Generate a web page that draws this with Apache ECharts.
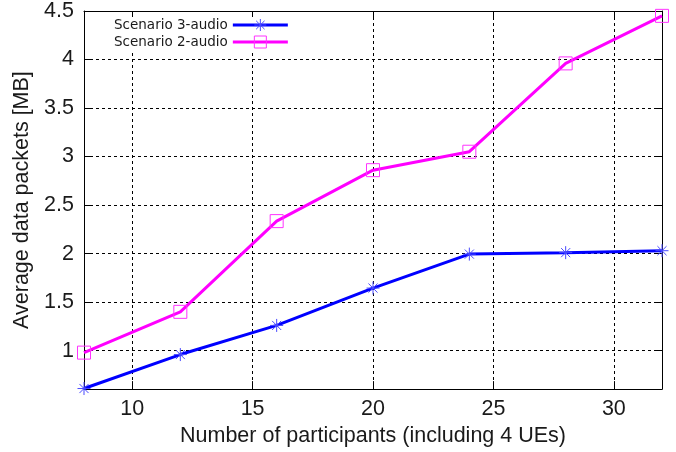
<!DOCTYPE html>
<html>
<head>
<meta charset="utf-8">
<script src="https://cdn.jsdelivr.net/npm/echarts@6/dist/echarts.min.js"></script>
<style>
html,body{margin:0;padding:0;background:#fff;}
#chart{width:676px;height:452px;}
</style>
</head>
<body>
<div id="chart"></div>
<script>
const participants = [8, 12, 16, 20, 24, 28, 32];
const scenario3Audio = [0.61, 0.96, 1.26, 1.645, 1.995, 2.01, 2.03];
const scenario2Audio = [0.98, 1.40, 2.335, 2.86, 3.05, 3.96, 4.45];
const xTicks = [10, 15, 20, 25, 30];
const yTicks = [1, 1.5, 2, 2.5, 3, 3.5, 4, 4.5];
const seriesNames = ['Scenario 3-audio', 'Scenario 2-audio'];

const tickFont = 'Liberation Sans, Arial, sans-serif';
const textColor = '#1a1a1a';
const asterisk = 'path://M0,6H12M6,0V12M1.8,1.8L10.2,10.2M10.2,1.8L1.8,10.2';
const square = 'path://M0,0H12V12H0Z';

const chart = echarts.init(document.getElementById('chart'), null, {renderer: 'canvas'});
const gridDash = {show: true, lineStyle: {color: '#000', width: 1, type: [3, 3]}};
const axisLine = {show: true, onZero: false, lineStyle: {color: '#000', width: 1}};

chart.setOption({
  animation: false,
  backgroundColor: '#fff',
  grid: {left: 84, right: 14, top: 10, bottom: 61, containLabel: false},
  legend: {
    orient: 'vertical',
    left: 85,
    top: 17,
    align: 'right',
    backgroundColor: '#fff',
    padding: [1, 10, 3, 29],
    itemWidth: 55,
    itemHeight: 15,
    itemGap: 3,
    lineStyle: {width: 3},
    itemStyle: {borderWidth: 1},
    textStyle: {fontFamily: 'DejaVu Sans', fontSize: 13.5, color: textColor},
    data: seriesNames
  },
  xAxis: [{
    type: 'value', min: 8, max: 32, position: 'bottom',
    name: 'Number of participants (including 4 UEs)',
    nameLocation: 'middle', nameGap: 33,
    nameTextStyle: {fontFamily: tickFont, fontSize: 21.5, color: textColor},
    axisLine: axisLine,
    axisTick: {show: true, inside: true, length: 8, customValues: xTicks, lineStyle: {color: '#000'}},
    axisLabel: {show: true, customValues: xTicks, margin: 9, fontFamily: tickFont, fontSize: 21.5, color: textColor},
    splitLine: Object.assign({customValues: xTicks}, gridDash)
  }, {
    type: 'value', min: 8, max: 32, position: 'top',
    axisLine: axisLine,
    axisTick: {show: true, inside: true, length: 8, customValues: xTicks, lineStyle: {color: '#000'}},
    axisLabel: {show: false},
    splitLine: {show: false}
  }],
  yAxis: [{
    type: 'value', min: 0.604, max: 4.5, position: 'left',
    name: 'Average data packets [MB]',
    nameLocation: 'middle', nameGap: 50, nameRotate: 90,
    nameTextStyle: {fontFamily: tickFont, fontSize: 21.5, color: textColor},
    axisLine: axisLine,
    axisTick: {show: true, inside: true, length: 8, customValues: yTicks, lineStyle: {color: '#000'}},
    axisLabel: {show: true, customValues: yTicks, margin: 10, fontFamily: tickFont, fontSize: 21.5, color: textColor},
    splitLine: Object.assign({customValues: yTicks}, gridDash)
  }, {
    type: 'value', min: 0.604, max: 4.5, position: 'right',
    axisLine: axisLine,
    axisTick: {show: true, inside: true, length: 8, customValues: yTicks, lineStyle: {color: '#000'}},
    axisLabel: {show: false},
    splitLine: {show: false}
  }],
  series: [{
    name: seriesNames[0],
    type: 'line',
    xAxisIndex: 0, yAxisIndex: 0,
    data: participants.map((x, i) => [x, scenario3Audio[i]]),
    symbol: asterisk,
    symbolSize: 13,
    showAllSymbol: true,
    clip: false,
    lineStyle: {color: '#0000ff', width: 3},
    itemStyle: {color: '#4a4aff', borderColor: '#4a4aff', borderWidth: 1}
  }, {
    name: seriesNames[1],
    type: 'line',
    xAxisIndex: 0, yAxisIndex: 0,
    data: participants.map((x, i) => [x, scenario2Audio[i]]),
    symbol: square,
    symbolSize: 13,
    showAllSymbol: true,
    clip: false,
    lineStyle: {color: '#ff00ff', width: 3},
    itemStyle: {color: 'rgba(0,0,0,0)', borderColor: '#ff33ff', borderWidth: 1}
  }]
});
</script>
</body>
</html>
